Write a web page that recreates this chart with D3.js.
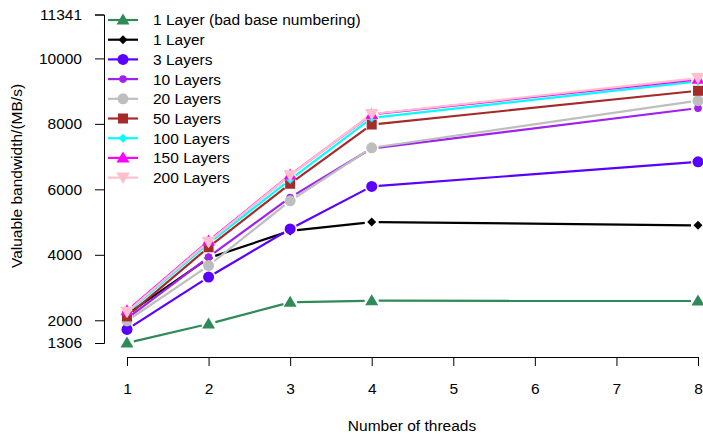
<!DOCTYPE html>
<html>
<head>
<meta charset="utf-8">
<script src="https://cdn.jsdelivr.net/npm/d3@7"></script>
<style>
  body { margin: 0; background: #fff; }
  text { font-family: "Liberation Sans", Arial, sans-serif; }
</style>
</head>
<body>
<div id="chart"></div>
<script>
// data
var threads = [1, 2, 3, 4, 8];
var xTicks = [1, 2, 3, 4, 5, 6, 7, 8];
var yTicks = [1306, 2000, 4000, 6000, 8000, 10000, 11341];

var seriesNames = ["1 Layer (bad base numbering)", "1 Layer", "3 Layers", "10 Layers", "20 Layers",
  "50 Layers", "100 Layers", "150 Layers", "200 Layers"];
var badBase = [1306, 1890, 2550, 2600, 2590];
var layer1 = [2180, 3900, 4730, 5000, 4900];
var layer3 = [1720, 3320, 4790, 6090, 6840];
var layer10 = [2050, 3930, 5750, 7250, 8480];
var layer20 = [1980, 3670, 5650, 7270, 8710];
var layer50 = [2120, 4230, 6170, 7980, 9010];
var layer100 = [2230, 4350, 6300, 8180, 9300];
var layer150 = [2290, 4420, 6440, 8290, 9360];
var layer200 = [2260, 4400, 6430, 8300, 9400];

var colors = ["#2e8b57", "#000000", "#5a00ff", "#a020f0", "#bebebe", "#a52a2a", "#00ffff", "#ff00ff", "#ffc0cb"];
var shapes = ["tri", "diamond", "circle", "dot", "circle", "square", "diamond", "tri", "tridown"];

var allValues = [badBase, layer1, layer3, layer10, layer20, layer50, layer100, layer150, layer200];

var width = 703, height = 434;

var x = d3.scaleLinear().domain([1, 8]).range([127, 698]);
var y = d3.scaleLinear().domain([1306, 11341]).range([343, 14.5]);

var svg = d3.select("#chart").append("svg")
  .attr("width", width)
  .attr("height", height);

// axes, R style (detached, line only over tick range)
var yAxis = svg.append("g")
  .attr("transform", "translate(104,0)")
  .call(d3.axisLeft(y).tickValues(yTicks).tickFormat(d3.format("d")).tickSizeOuter(0).tickSize(9).tickPadding(13));

var xAxis = svg.append("g")
  .attr("transform", "translate(0,357)")
  .call(d3.axisBottom(x).tickValues(xTicks).tickFormat(d3.format("d")).tickSizeOuter(0).tickSize(9).tickPadding(17));

[yAxis, xAxis].forEach(function (g) {
  g.selectAll("text").attr("font-size", 15.5).attr("fill", "#000")
    .attr("font-family", "'Liberation Sans', Arial, sans-serif");
  g.selectAll("path, line").attr("stroke", "#000").attr("stroke-width", 1);
});

svg.append("text")
  .attr("x", 412).attr("y", 431)
  .attr("text-anchor", "middle")
  .attr("font-size", 15.5)
  .text("Number of threads");

svg.append("text")
  .attr("transform", "translate(22,176) rotate(-90)")
  .attr("text-anchor", "middle")
  .attr("font-size", 15.5)
  .text("Valuable bandwidth/(MB/s)");

function symbolPath(shape) {
  switch (shape) {
    case "tri": return "M0,-6.5L6.5,4.5L-6.5,4.5Z";
    case "tridown": return "M0,6.5L6.8,-5L-6.8,-5Z";
    case "diamond": return "M0,-4.5L4.5,0L0,4.5L-4.5,0Z";
    case "square": return "M-5,-5H5V5H-5Z";
    case "circle": return d3.symbol(d3.symbolCircle, Math.PI * 5.5 * 5.5)();
    case "dot": return d3.symbol(d3.symbolCircle, Math.PI * 3.8 * 3.8)();
  }
}

// series lines with gaps around points (type = "b")
var gap = 7;
allValues.forEach(function (vals, si) {
  var pts = threads.map(function (t, i) { return [x(t), y(vals[i])]; });
  var g = svg.append("g");
  for (var i = 0; i < pts.length - 1; i++) {
    var p0 = pts[i], p1 = pts[i + 1];
    var dx = p1[0] - p0[0], dy = p1[1] - p0[1];
    var len = Math.sqrt(dx * dx + dy * dy);
    if (len <= 2 * gap) continue;
    var ux = dx / len, uy = dy / len;
    g.append("line")
      .attr("x1", p0[0] + ux * gap).attr("y1", p0[1] + uy * gap)
      .attr("x2", p1[0] - ux * gap).attr("y2", p1[1] - uy * gap)
      .attr("stroke", colors[si])
      .attr("stroke-width", 2.2);
  }
  g.selectAll("path")
    .data(pts)
    .enter()
    .append("path")
    .attr("transform", function (d) { return "translate(" + d[0] + "," + d[1] + ")"; })
    .attr("d", symbolPath(shapes[si]))
    .attr("fill", colors[si]);
});

// legend (no box)
var legend = svg.append("g");
seriesNames.forEach(function (name, i) {
  var ly = 20 + i * 19.7;
  legend.append("line")
    .attr("x1", 108).attr("x2", 138)
    .attr("y1", ly).attr("y2", ly)
    .attr("stroke", colors[i])
    .attr("stroke-width", 2.2);
  legend.append("path")
    .attr("transform", "translate(123," + ly + ")")
    .attr("d", symbolPath(shapes[i]))
    .attr("fill", colors[i]);
  legend.append("text")
    .attr("x", 153).attr("y", ly)
    .attr("dy", "0.35em")
    .attr("font-size", 15.5)
    .text(name);
});
</script>
</body>
</html>
